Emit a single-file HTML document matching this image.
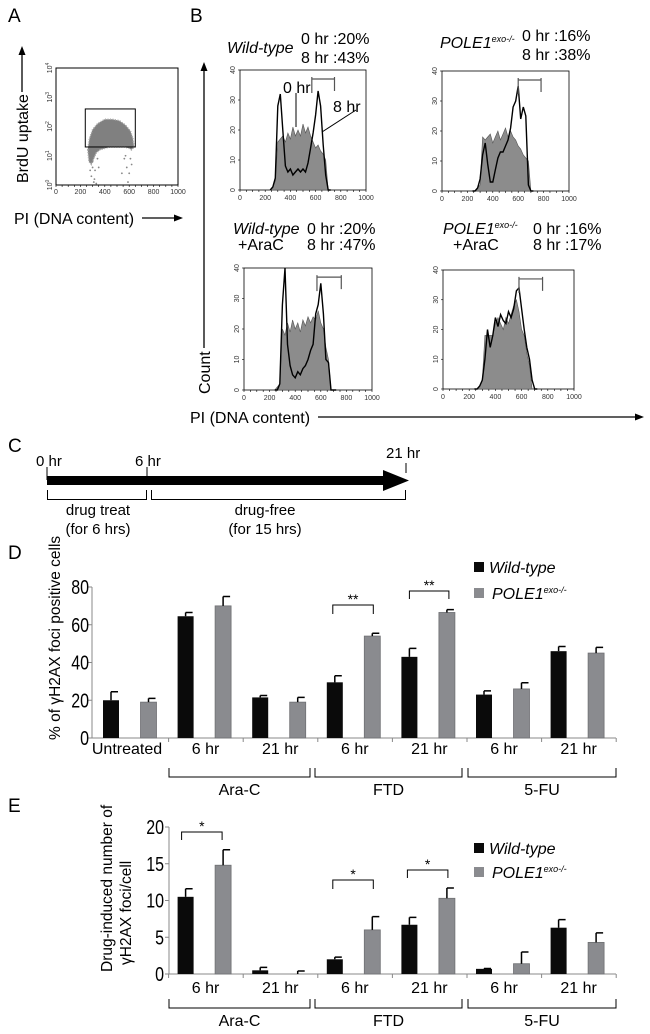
<!DOCTYPE html>
<html><head><meta charset="utf-8"><style>
html,body{margin:0;padding:0;background:#fff}
svg{display:block;font-family:"Liberation Sans",Arial,sans-serif}
</style></head><body>
<svg id="fig" width="650" height="1034" viewBox="0 0 650 1034" xmlns="http://www.w3.org/2000/svg">
<g id="static" fill="#000">
<text x="8" y="22" font-size="19">A</text>
<text x="190" y="22" font-size="19">B</text>
<text x="8" y="452" font-size="19">C</text>
<text x="8" y="559" font-size="19">D</text>
<text x="8" y="812" font-size="19">E</text>
<text transform="translate(28,183) rotate(-90)" font-size="16">BrdU uptake</text>
<line x1="22" y1="92" x2="22" y2="52" stroke="#000" stroke-width="1.3"/>
<polygon points="22,46 18.5,55 25.5,55"/>
<text x="14" y="224" font-size="16">PI (DNA content)</text>
<line x1="142" y1="218" x2="176" y2="218" stroke="#000" stroke-width="1.3"/>
<polygon points="183,218 174,214.5 174,221.5"/>
<text x="227" y="53" font-size="16" font-style="italic">Wild-type</text>
<text x="301" y="44" font-size="16">0 hr :20%</text>
<text x="301" y="63" font-size="16">8 hr :43%</text>
<text x="440" y="48" font-size="16" font-style="italic">POLE1<tspan font-size="9" dy="-6">exo-/-</tspan></text>
<text x="522" y="41" font-size="16">0 hr :16%</text>
<text x="522" y="60" font-size="16">8 hr :38%</text>
<text x="233" y="234" font-size="16" font-style="italic">Wild-type</text>
<text x="238" y="250" font-size="16">+AraC</text>
<text x="307" y="234" font-size="16">0 hr :20%</text>
<text x="307" y="250" font-size="16">8 hr :47%</text>
<text x="443" y="234" font-size="16" font-style="italic">POLE1<tspan font-size="9" dy="-6">exo-/-</tspan></text>
<text x="453" y="250" font-size="16">+AraC</text>
<text x="533" y="234" font-size="16">0 hr :16%</text>
<text x="533" y="250" font-size="16">8 hr :17%</text>
<line x1="204" y1="348" x2="204" y2="70" stroke="#000" stroke-width="1.3"/>
<polygon points="204,62 200.5,71 207.5,71"/>
<text transform="translate(210,394) rotate(-90)" font-size="16">Count</text>
<text x="190" y="423" font-size="16">PI (DNA content)</text>
<line x1="318" y1="417" x2="636" y2="417" stroke="#000" stroke-width="1.3"/>
<polygon points="644,417 635,413.5 635,420.5"/>
<text x="36" y="466" font-size="15">0 hr</text>
<text x="135" y="466" font-size="15">6 hr</text>
<text x="386" y="458" font-size="15">21 hr</text>
<line x1="147" y1="467" x2="147" y2="480" stroke="#000" stroke-width="1"/>
<line x1="47" y1="467" x2="47" y2="480" stroke="#000" stroke-width="1"/>
<line x1="406" y1="463" x2="406" y2="473" stroke="#000" stroke-width="1"/>
<rect x="47" y="476" width="338" height="9"/>
<polygon points="383,470 409,480.5 383,491"/>
<path d="M47.5,490 V499.5 H146.5 V490" fill="none" stroke="#000" stroke-width="1"/>
<path d="M151.5,490 V499.5 H405.5 V490" fill="none" stroke="#000" stroke-width="1"/>
<text x="98" y="515" font-size="15" text-anchor="middle">drug treat</text>
<text x="98" y="534" font-size="15" text-anchor="middle">(for 6 hrs)</text>
<text x="265" y="515" font-size="15" text-anchor="middle">drug-free</text>
<text x="265" y="534" font-size="15" text-anchor="middle">(for 15 hrs)</text>
<text transform="translate(60,740) rotate(-90)" font-size="15.5">% of γH2AX foci positive cells</text>
<rect x="474" y="562" width="10" height="10" fill="#0a0a0a"/>
<text x="489" y="573" font-size="16" font-style="italic">Wild-type</text>
<rect x="474" y="588" width="10" height="10" fill="#8a8b8f"/>
<text x="492" y="599" font-size="16" font-style="italic">POLE1<tspan font-size="9" dy="-6">exo-/-</tspan></text>
<text transform="translate(112,972) rotate(-90)" font-size="15.5">Drug-induced number of</text>
<text transform="translate(131,965) rotate(-90)" font-size="15.5">γH2AX foci/cell</text>
<rect x="474" y="843" width="10" height="10" fill="#0a0a0a"/>
<text x="489" y="854" font-size="16" font-style="italic">Wild-type</text>
<rect x="474" y="867" width="10" height="10" fill="#8a8b8f"/>
<text x="492" y="878" font-size="16" font-style="italic">POLE1<tspan font-size="9" dy="-6">exo-/-</tspan></text>
</g>
<g id="dyn"></g>
</svg>
<script>
var histBins = [240,260,280,300,320,340,360,380,400,420,440,460,480,500,520,540,560,580,600,620,640,660,680,700,720];
var tl0 = [0,1,3,16,17,18,16,19,17,21,18,20,18,22,19,21,18,16,14,15,13,12,10,0,0];
var tl8 = [0,1,4,28,32,20,8,6,7,5,6,7,6,7,6,9,14,19,25,33,28,15,5,0,0];
var tr0 = [0,0,1,2,18,17,18,19,16,18,20,17,19,21,18,20,18,17,15,14,12,11,10,0,0];
var tr8 = [0,0,1,4,12,16,9,3,3,7,11,13,13,15,17,21,28,30,35,24,28,25,2,0,0];
var bl0 = [0,1,2,20,18,22,19,23,20,22,19,23,21,24,22,24,23,26,22,20,14,10,0,0,0];
var bl8 = [0,0,2,28,40,15,8,5,4,6,5,7,8,10,13,15,25,28,35,25,10,9,0,0,0];
var br0 = [0,0,1,3,18,18,18,18,22,24,22,20,24,22,25,28,30,26,20,18,12,8,0,0,0];
var br8 = [0,0,1,3,10,20,14,18,24,21,25,23,22,26,24,27,33,34,27,20,14,10,3,0,0];
var histTicks = ["0","200","400","600","800","1000"];
var histYTicks = ["0","10","20","30","40"];
var scatterPI =   [260,275,300,340,400,460,520,570,610,630,640,620,600,560,520,480,440,400,360,330,310,290,270];
var scatterLog =  [1.2,1.6,1.9,2.1,2.25,2.25,2.2,2.05,1.85,1.6,1.3,1.2,1.25,1.3,1.3,1.3,1.3,1.25,1.2,1.1,0.9,0.7,0.8];
var scatterTailPI = [300,320,290,340,310,560,580,600,590,620,330,570,280,350,610,540,300,315];
var scatterTailLog = [0.8,0.5,0.3,0.9,0.1,0.9,0.6,0.4,0.1,0.7,0.05,1.0,0.5,0.6,0.9,0.4,0.6,0.2];
var aTicks = ["0","200","400","600","800","1000"];
var dCats = ["Untreated","6 hr","21 hr","6 hr","21 hr","6 hr","21 hr"];
var dWT = [20,64.5,21.5,29.5,43,23,46];
var dKO = [19,70,19,54,66.5,26,45];
var dWTerr = [4.5,2,1,3.5,4.5,2,2.5];
var dKOerr = [2,5,2.5,1.5,1.5,3.3,3];
var dTicks = [0,20,40,60,80];
var eCats = ["6 hr","21 hr","6 hr","21 hr","6 hr","21 hr"];
var eWT = [10.5,0.5,2,6.7,0.7,6.3];
var eKO = [14.8,0,6,10.3,1.4,4.3];
var eWTerr = [1.1,0.4,0.3,1,0.05,1.1];
var eKOerr = [2.1,0.4,1.8,1.4,1.6,1.3];
var eTicks = [0,5,10,15,20];
var drugGroups = ["Ara-C","FTD","5-FU"];

var NS = "http://www.w3.org/2000/svg";
var dyn = document.getElementById("dyn");
function mk(tag, attrs, parent) {
  var e = document.createElementNS(NS, tag);
  for (var k in attrs) e.setAttribute(k, attrs[k]);
  (parent || dyn).appendChild(e);
  return e;
}

(function(){
  var x0=56,x1=178,y0=185,y1=68;
  function sx(v){return x0+(x1-x0)*v/1000;}
  function sy(l){return y0-(y0-y1)*l/4;}
  var box=mk("rect",{x:x0,y:y1,width:x1-x0,height:y0-y1,fill:"none",stroke:"#000","stroke-width":1});
  
  
  var d="";
  for(var i=0;i<scatterPI.length;i++){d+=(i?"L":"M")+sx(scatterPI[i]).toFixed(1)+","+sy(scatterLog[i]).toFixed(1);}
  var blob=mk("path",{d:d+"Z",fill:"#808080",stroke:"#aaa","stroke-width":1.5,"stroke-dasharray":"1 1.5"});
  
  
  for(var j=0;j<scatterTailPI.length;j++){
    var p=mk("circle",{cx:sx(scatterTailPI[j]),cy:sy(scatterTailLog[j]),r:0.9,fill:"#888"});
    
    
  }
  var gate=mk("rect",{x:sx(240),y:sy(2.6),width:sx(650)-sx(240),height:sy(1.3)-sy(2.6),fill:"none",stroke:"#000","stroke-width":1});
  
  
  for(var t=0;t<aTicks.length;t++){
    var tx=mk("text",{x:sx(t*200),y:y0+9,"font-size":7,"text-anchor":"middle",fill:"#333"});
    tx.textContent=aTicks[t];
    
    
  }
  for(var m=0;m<=20;m++){mk("line",{x1:sx(m*50),x2:sx(m*50),y1:y0,y2:y0+2,stroke:"#000","stroke-width":0.6});}
  for(var q=0;q<=4;q++){
    var ly=mk("text",{transform:"translate("+(x0-4)+","+sy(q)+") rotate(-90)","font-size":7,"text-anchor":"middle",fill:"#333"});
    ly.innerHTML="10<tspan font-size='5' dy='-3'>"+q+"</tspan>";
    
    
  }
})();

function hist(name,x0,x1,y1,y0,g,b,gate){
  function sx(v){return x0+(x1-x0)*v/1000;}
  function sy(v){return y0-(y0-y1)*v/40;}
  var fr=mk("rect",{x:x0,y:y1,width:x1-x0,height:y0-y1,fill:"none",stroke:"#000","stroke-width":0.8});
  
  
  var d="M"+sx(histBins[0])+","+sy(0);
  for(var i=0;i<histBins.length;i++) d+="L"+sx(histBins[i]).toFixed(1)+","+sy(g[i]).toFixed(1);
  d+="L"+sx(histBins[histBins.length-1])+","+sy(0)+"Z";
  var ga=mk("path",{d:d,fill:"#8c8c8c",stroke:"#555","stroke-width":0.6});
  
  
  var l="";
  for(var k=0;k<histBins.length;k++) l+=(k?"L":"M")+sx(histBins[k]).toFixed(1)+","+sy(b[k]).toFixed(1);
  var bl=mk("path",{d:l,fill:"none",stroke:"#000","stroke-width":1.4});
  
  
  var gt=mk("path",{d:"M"+sx(gate[0])+","+(sy(37)-2)+"V"+(sy(37)+14)+"M"+sx(gate[0])+","+sy(37)+"H"+sx(gate[1])+"M"+sx(gate[1])+","+(sy(37)-2)+"V"+(sy(37)+12),fill:"none",stroke:"#555","stroke-width":1.2});
  
  
  for(var m=0;m<=20;m++){mk("line",{x1:sx(m*50),x2:sx(m*50),y1:y0,y2:y0+2,stroke:"#000","stroke-width":0.6});}
  for(var t=0;t<histTicks.length;t++){
    var tx=mk("text",{x:sx(t*200),y:y0+10,"font-size":7,"text-anchor":"middle",fill:"#333"});
    tx.textContent=histTicks[t];
    
    
  }
  for(var q=0;q<histYTicks.length;q++){
    var yy=sy(q*10);
    mk("line",{x1:x0-2,x2:x0,y1:yy,y2:yy,stroke:"#000","stroke-width":0.6});
    var ty=mk("text",{transform:"translate("+(x0-5)+","+yy+") rotate(-90)","font-size":7,"text-anchor":"middle",fill:"#333"});
    ty.textContent=histYTicks[q];
    
    
  }
}
hist("b-wt",240,366,70,190,tl0,tl8,[570,750]);
hist("b-ko",442,569,71,191,tr0,tr8,[600,780]);
hist("b-wt-arac",244,372,268,390,bl0,bl8,[570,760]);
hist("b-ko-arac",443,574,270,389,br0,br8,[580,760]);
(function(){
  var t0=mk("text",{x:283,y:93,"font-size":16});t0.textContent="0 hr";
  
  
  mk("line",{x1:296,y1:93,x2:296,y2:127,stroke:"#000","stroke-width":1});
  var t8=mk("text",{x:333,y:112,"font-size":16});t8.textContent="8 hr";
  
  
  mk("line",{x1:356,y1:110,x2:322,y2:132,stroke:"#000","stroke-width":1});
})();

function barX(i){return 103+74.6*i;}
var BW=16, GOFF=37.5;
function errBar(x,yTop,yErr,name){
  var e=mk("path",{d:"M"+(x+BW/2)+","+yTop+"V"+yErr+"M"+(x+BW/2)+","+yErr+"H"+(x+BW-1),fill:"none",stroke:"#000","stroke-width":1.5});
  
  
}
function sig(xa,xb,y,legs,label,name){
  var p=mk("path",{d:"M"+xa+","+(y+legs)+"V"+y+"H"+xb+"V"+(y+legs),fill:"none",stroke:"#000","stroke-width":1});
  
  
  var t=mk("text",{x:(xa+xb)/2,y:y-1,"font-size":14,"text-anchor":"middle"});t.textContent=label;
  
  
}
function groupBrackets(yB,yL,prefix){
  var xs=[[169,310],[315,462],[468,616]];
  for(var g=0;g<3;g++){
    var p=mk("path",{d:"M"+xs[g][0]+","+(yB-9)+"V"+yB+"H"+xs[g][1]+"V"+(yB-9),fill:"none",stroke:"#000","stroke-width":1});
    
    
    var t=mk("text",{x:(xs[g][0]+xs[g][1])/2,y:yL,"font-size":16,"text-anchor":"middle"});t.textContent=drugGroups[g];
    
    
  }
}
(function(){
  var y0=738, k=151/80;
  function sy(v){return y0-v*k;}
  mk("line",{x1:92,x2:92,y1:sy(80),y2:y0,stroke:"#888","stroke-width":1});
  mk("line",{x1:92,x2:616,y1:y0,y2:y0,stroke:"#888","stroke-width":1});
  for(var t=0;t<dTicks.length;t++){
    mk("line",{x1:88,x2:92,y1:sy(dTicks[t]),y2:sy(dTicks[t]),stroke:"#888"});
    var tl=mk("text",{transform:"translate(89,"+(sy(dTicks[t])+7)+") scale(0.8,1)","font-size":20,"text-anchor":"end"});tl.textContent=dTicks[t];
    
    
  }
  for(var b=1;b<=7;b++){mk("line",{x1:94+74.6*b,x2:94+74.6*b,y1:y0,y2:y0+4,stroke:"#888"});}
  for(var i=0;i<dCats.length;i++){
    var x=barX(i);
    var r=mk("rect",{x:x,y:sy(dWT[i]),width:BW,height:dWT[i]*k,fill:"#0a0a0a"});
    
    
    errBar(x,sy(dWT[i]),sy(dWT[i]+dWTerr[i]),'d-error-wild-type');
    var r2=mk("rect",{x:x+GOFF,y:sy(dKO[i]),width:BW,height:dKO[i]*k,fill:"#8a8b8f",stroke:"#6f7073","stroke-width":0.8});
    
    
    errBar(x+GOFF,sy(dKO[i]),sy(dKO[i]+dKOerr[i]),'d-error-pole1');
    var c=mk("text",{x:x+(i==0?24:28),y:754,"font-size":16,"text-anchor":"middle"});c.textContent=dCats[i];
    
    
  }
  sig(barX(3)+6,barX(3)+GOFF+9,605,9,"**","d-sig-ftd-6hr");
  sig(barX(4)+8,barX(4)+GOFF+10,591,8,"**","d-sig-ftd-21hr");
  groupBrackets(777,795,'d');
})();
(function(){
  var y0=974, k=147/20;
  function sy(v){return y0-v*k;}
  mk("line",{x1:169,x2:169,y1:sy(20),y2:y0,stroke:"#888","stroke-width":1});
  mk("line",{x1:169,x2:616,y1:y0,y2:y0,stroke:"#888","stroke-width":1});
  for(var t=0;t<eTicks.length;t++){
    mk("line",{x1:165,x2:169,y1:sy(eTicks[t]),y2:sy(eTicks[t]),stroke:"#888"});
    var tl=mk("text",{transform:"translate(164,"+(sy(eTicks[t])+7)+") scale(0.8,1)","font-size":20,"text-anchor":"end"});tl.textContent=eTicks[t];
    
    
  }
  for(var b=1;b<=7;b++){mk("line",{x1:94+74.6*b,x2:94+74.6*b,y1:y0,y2:y0+4,stroke:"#888"});}
  for(var i=0;i<eCats.length;i++){
    var x=barX(i+1);
    var r=mk("rect",{x:x,y:sy(eWT[i]),width:BW,height:eWT[i]*k,fill:"#0a0a0a"});
    
    
    errBar(x,sy(eWT[i]),sy(eWT[i]+eWTerr[i]),'e-error-wild-type');
    var r2=mk("rect",{x:x+GOFF,y:sy(eKO[i]),width:BW,height:eKO[i]*k,fill:"#8a8b8f",stroke:"#6f7073","stroke-width":0.8});
    
    
    errBar(x+GOFF,sy(eKO[i]),sy(eKO[i]+eKOerr[i]),'e-error-pole1');
    var c=mk("text",{x:x+28,y:993,"font-size":16,"text-anchor":"middle"});c.textContent=eCats[i];
    
    
  }
  sig(barX(1)+4,barX(1)+GOFF+7,832,8,"*","e-sig-arac-6hr");
  sig(barX(3)+6,barX(3)+GOFF+9,880,9,"*","e-sig-ftd-6hr");
  sig(barX(4)+6,barX(4)+GOFF+9,870,8,"*","e-sig-ftd-21hr");
  groupBrackets(1008,1026,'e');
})();
</script>
</body></html>
